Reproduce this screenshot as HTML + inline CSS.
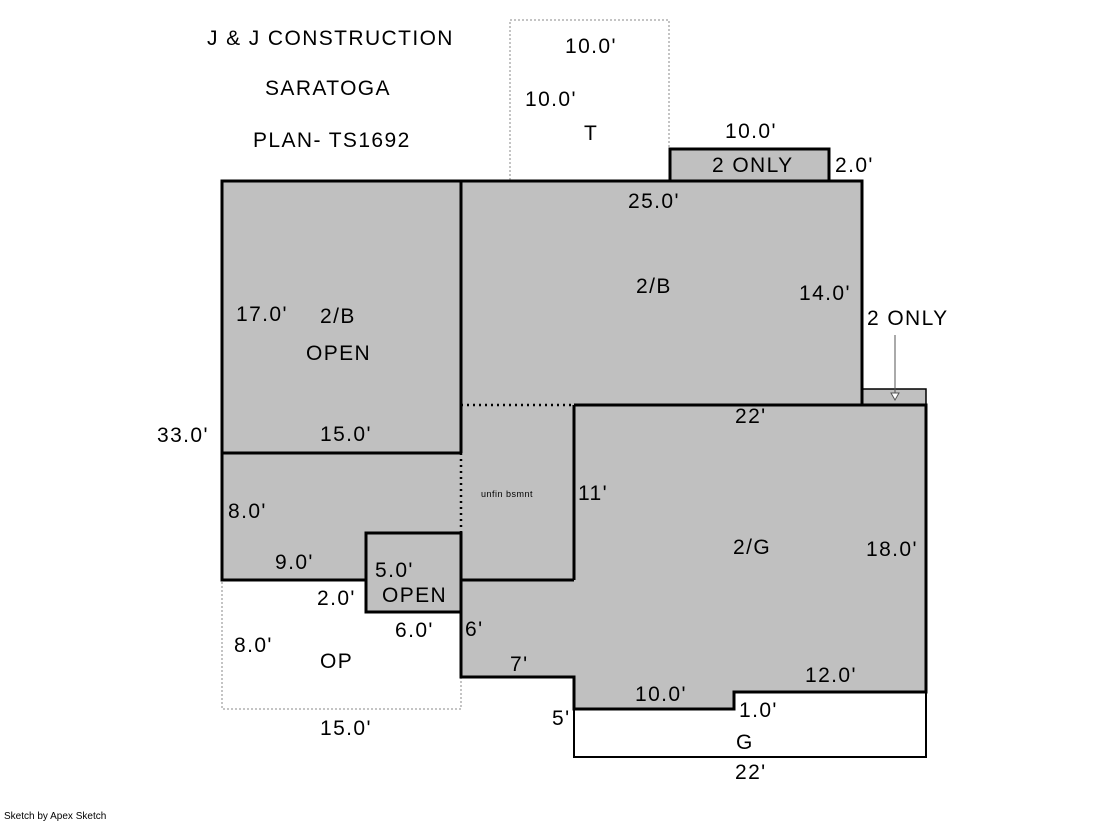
<!DOCTYPE html>
<html><head><style>body{margin:0;background:#fff}svg{display:block}text{font-family:"Liberation Sans",sans-serif;font-size:21px;letter-spacing:1.4px;fill:#000}</style></head><body>
<svg width="1119" height="821" viewBox="0 0 1119 821">
<rect x="510" y="20" width="159" height="161" fill="#fff" stroke="#888" stroke-width="1" stroke-dasharray="2,2"/>
<rect x="222" y="580" width="239" height="129" fill="#fff" stroke="#888" stroke-width="1" stroke-dasharray="2,2"/>
<rect x="574" y="692" width="352" height="65" fill="#fff" stroke="#000" stroke-width="2"/>
<rect x="670" y="149" width="159" height="32" fill="#c0c0c0" stroke="#000" stroke-width="3"/>
<rect x="862" y="389" width="64" height="16" fill="#c0c0c0" stroke="#000" stroke-width="1.5"/>
<polygon points="222,181 862,181 862,405 926,405 926,692 734,692 734,709 574,709 574,677 461,677 461,612 366,612 366,580 222,580" fill="#c0c0c0" stroke="#000" stroke-width="3"/>
<rect x="366" y="533" width="95" height="79" fill="#c0c0c0" stroke="#000" stroke-width="3"/>
<g stroke="#000" stroke-width="3" fill="none">
<line x1="461" y1="181" x2="461" y2="453"/>
<line x1="222" y1="453" x2="461" y2="453"/>
<line x1="574" y1="405" x2="862" y2="405"/>
<line x1="574" y1="405" x2="574" y2="580"/>
<line x1="461" y1="580" x2="574" y2="580"/>
<line x1="461" y1="533" x2="461" y2="677"/>
</g>
<g stroke="#000" stroke-width="2.5" stroke-dasharray="2,4" fill="none">
<line x1="461" y1="405" x2="574" y2="405"/>
<line x1="461" y1="453" x2="461" y2="533"/>
</g>
<line x1="895" y1="335" x2="895" y2="395" stroke="#555" stroke-width="1"/>
<polygon points="891,393 899,393 895,400" fill="#fff" stroke="#555" stroke-width="1"/>
<text x="207" y="45">J &amp; J CONSTRUCTION</text>
<text x="265" y="95">SARATOGA</text>
<text x="253" y="147">PLAN- TS1692</text>
<text x="565" y="53">10.0'</text>
<text x="525" y="106">10.0'</text>
<text x="584" y="140">T</text>
<text x="725" y="138">10.0'</text>
<text x="712" y="172">2 ONLY</text>
<text x="835" y="172">2.0'</text>
<text x="628" y="208">25.0'</text>
<text x="636" y="293">2/B</text>
<text x="799" y="300">14.0'</text>
<text x="867" y="325">2 ONLY</text>
<text x="236" y="321">17.0'</text>
<text x="320" y="323">2/B</text>
<text x="306" y="360">OPEN</text>
<text x="157" y="442">33.0'</text>
<text x="320" y="441">15.0'</text>
<text x="735" y="423">22'</text>
<text x="481" y="497" style="font-size:9px;letter-spacing:0.5px">unfin bsmnt</text>
<text x="578" y="500">11'</text>
<text x="228" y="518">8.0'</text>
<text x="733" y="554">2/G</text>
<text x="866" y="556">18.0'</text>
<text x="275" y="569">9.0'</text>
<text x="375" y="577">5.0'</text>
<text x="317" y="605">2.0'</text>
<text x="382" y="602">OPEN</text>
<text x="395" y="637">6.0'</text>
<text x="465" y="636">6'</text>
<text x="234" y="652">8.0'</text>
<text x="320" y="668">OP</text>
<text x="510" y="671">7'</text>
<text x="805" y="682">12.0'</text>
<text x="635" y="701">10.0'</text>
<text x="739" y="717">1.0'</text>
<text x="552" y="725">5'</text>
<text x="320" y="735">15.0'</text>
<text x="736" y="749">G</text>
<text x="735" y="779">22'</text>
<text x="4" y="819" style="font-size:10px;letter-spacing:0">Sketch by Apex Sketch</text>
</svg>
</body></html>
